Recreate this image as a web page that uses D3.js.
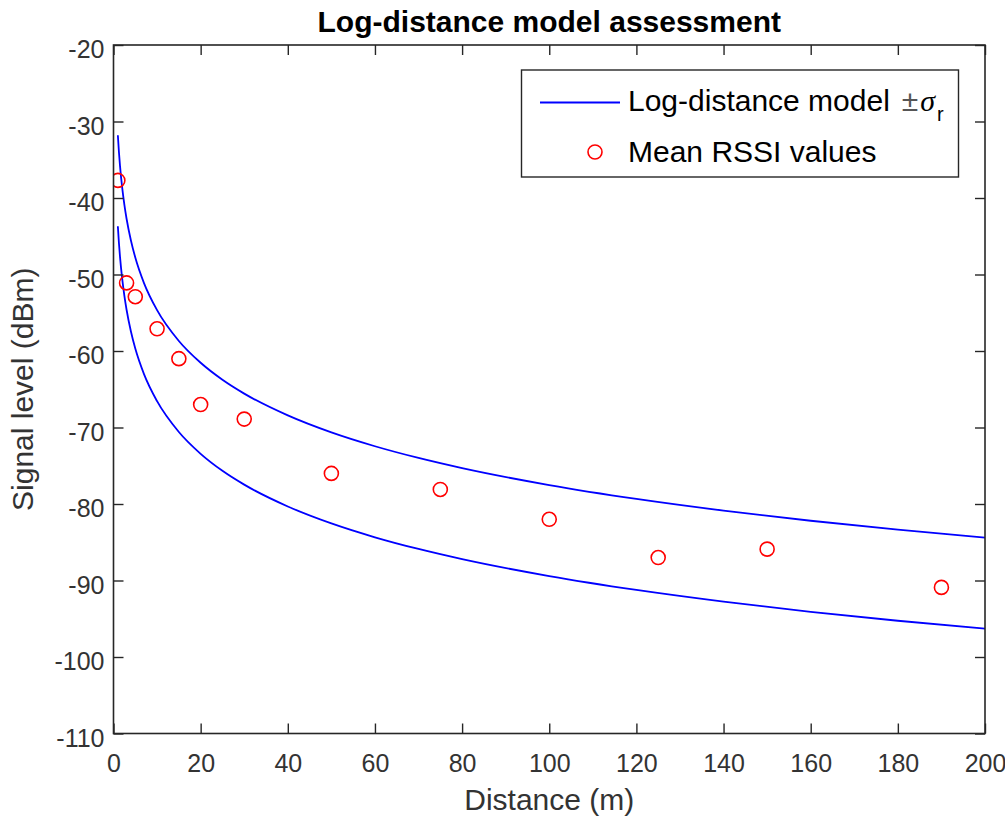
<!DOCTYPE html>
<html>
<head>
<meta charset="utf-8">
<script src="https://cdn.jsdelivr.net/npm/d3@7"></script>
<style>
  body { margin: 0; background: #fff; }
  text { font-family: "Liberation Sans", Arial, Helvetica, sans-serif; }
</style>
</head>
<body>
<svg id="chart" width="1005" height="818"></svg>
<script>
// log-distance model curves
var modelDist = [1, 1.25, 1.5, 2, 2.5, 3, 4, 5, 7, 10, 15, 20, 25, 30, 40, 50, 60, 70, 80, 100, 120, 140, 160, 180, 200];
var modelUpper = [-31.8, -34.02, -35.83, -38.68, -40.9, -42.71, -45.56, -47.78, -51.12, -54.66, -58.69, -61.54, -63.76, -65.57, -68.42, -70.64, -72.45, -73.98, -75.31, -77.52, -79.33, -80.86, -82.19, -83.36, -84.4];
var modelLower = [-43.7, -45.92, -47.73, -50.58, -52.8, -54.61, -57.46, -59.68, -63.02, -66.56, -70.59, -73.44, -75.66, -77.47, -80.32, -82.54, -84.35, -85.88, -87.21, -89.42, -91.23, -92.76, -94.09, -95.26, -96.3];

// measured mean RSSI
var rssiDist = [1, 3, 5, 10, 15, 20, 30, 50, 75, 100, 125, 150, 190];
var rssiMean = [-37.7, -51.1, -52.9, -57.1, -61, -67, -68.9, -76, -78.1, -82, -87, -85.9, -90.9];

var xTicks = [0, 20, 40, 60, 80, 100, 120, 140, 160, 180, 200];
var yTicks = [-110, -100, -90, -80, -70, -60, -50, -40, -30, -20];

var axisColor = "#262626";
var mLeft = 113.5, mRight = 985, mTop = 45, mBottom = 733.5;

var svg = d3.select("#chart");

var x = d3.scaleLinear().domain([0, 200]).range([mLeft, mRight]);
var y = d3.scaleLinear().domain([-110, -20]).range([mBottom, mTop]);

// clip for data
svg.append("clipPath").attr("id", "clip")
  .append("rect").attr("x", mLeft).attr("y", mTop)
  .attr("width", mRight - mLeft).attr("height", mBottom - mTop);

var line = d3.line()
  .x((d) => x(d[0]))
  .y((d) => y(d[1]))
  .curve(d3.curveMonotoneX);

var plot = svg.append("g").attr("clip-path", "url(#clip)");

[modelUpper, modelLower].forEach((vals) => {
  plot.append("path")
    .datum(modelDist.map((d, i) => [d, vals[i]]))
    .attr("d", line)
    .attr("fill", "none")
    .attr("stroke", "#0000ff")
    .attr("stroke-width", 1.8);
});

plot.selectAll("circle.rssi")
  .data(rssiDist.map((d, i) => [d, rssiMean[i]]))
  .enter()
  .append("circle")
  .attr("class", "rssi")
  .attr("cx", (d) => x(d[0]))
  .attr("cy", (d) => y(d[1]))
  .attr("r", 7)
  .attr("fill", "none")
  .attr("stroke", "#ff0000")
  .attr("stroke-width", 1.6);

// axes (MATLAB style: ticks inside, box on)
var tickLen = 10;
var fmt = (d) => String(d);
var xAxisB = d3.axisBottom(x).tickValues(xTicks).tickFormat(fmt).tickSizeInner(-tickLen).tickSizeOuter(0).tickPadding(20);
var xAxisT = d3.axisTop(x).tickValues(xTicks).tickSizeInner(-tickLen).tickSizeOuter(0).tickFormat("");
var yAxisL = d3.axisLeft(y).tickValues(yTicks).tickFormat(fmt).tickSizeInner(-tickLen).tickSizeOuter(0).tickPadding(19);
var yAxisR = d3.axisRight(y).tickValues(yTicks).tickSizeInner(-tickLen).tickSizeOuter(0).tickFormat("");

function styleAxis(g) {
  g.select(".domain").remove();
  g.selectAll(".tick line").attr("stroke", axisColor).attr("stroke-width", 1.4);
  g.selectAll(".tick text").attr("fill", "#333").style("font-size", "25px");
}

svg.append("g").attr("transform", "translate(0," + mBottom + ")").call(xAxisB).call(styleAxis)
  .selectAll(".tick text").attr("dy", "0.71em").attr("y", 21);
svg.append("g").attr("transform", "translate(0," + mTop + ")").call(xAxisT).call(styleAxis);
svg.append("g").attr("transform", "translate(" + mLeft + ",0)").call(yAxisL).call(styleAxis)
  .selectAll(".tick text").attr("dy", "0.5em").attr("x", -9);
svg.append("g").attr("transform", "translate(" + mRight + ",0)").call(yAxisR).call(styleAxis);

svg.append("rect")
  .attr("x", mLeft).attr("y", mTop)
  .attr("width", mRight - mLeft).attr("height", mBottom - mTop)
  .attr("fill", "none").attr("stroke", axisColor).attr("stroke-width", 1.6);

// labels
svg.append("text")
  .attr("x", (mLeft + mRight) / 2).attr("y", 32)
  .attr("text-anchor", "middle")
  .style("font-size", "30px").style("font-weight", "bold")
  .attr("fill", "#000")
  .text("Log-distance model assessment");

svg.append("text")
  .attr("x", (mLeft + mRight) / 2).attr("y", 810)
  .attr("text-anchor", "middle")
  .style("font-size", "30px")
  .attr("fill", "#333")
  .text("Distance (m)");

svg.append("text")
  .attr("transform", "translate(33," + (mTop + mBottom) / 2 + ") rotate(-90)")
  .attr("text-anchor", "middle")
  .style("font-size", "30px")
  .attr("fill", "#333")
  .text("Signal level (dBm)");

// legend
var lg = svg.append("g");
lg.append("rect")
  .attr("x", 521.5).attr("y", 70)
  .attr("width", 437).attr("height", 107)
  .attr("fill", "#fff").attr("stroke", axisColor).attr("stroke-width", 1.4);
lg.append("line")
  .attr("x1", 540).attr("x2", 620).attr("y1", 102.5).attr("y2", 102.5)
  .attr("stroke", "#0000ff").attr("stroke-width", 2);
var t1 = lg.append("text").attr("x", 628).attr("y", 111)
  .style("font-size", "30px").attr("fill", "#000");
t1.append("tspan").text("Log-distance model");
t1.append("tspan").attr("dx", 12).attr("fill", "#555").text("\u00B1");
t1.append("tspan").attr("dx", 2).style("font-style", "italic").style("font-family", "'Liberation Serif', serif").text("\u03C3");
t1.append("tspan").attr("dx", 2).attr("dy", 10).style("font-size", "20px").text("r");
lg.append("circle")
  .attr("cx", 595).attr("cy", 152).attr("r", 7)
  .attr("fill", "none").attr("stroke", "#ff0000").attr("stroke-width", 1.6);
lg.append("text").attr("x", 628).attr("y", 162)
  .style("font-size", "30px").attr("fill", "#000")
  .text("Mean RSSI values");
</script>
</body>
</html>
